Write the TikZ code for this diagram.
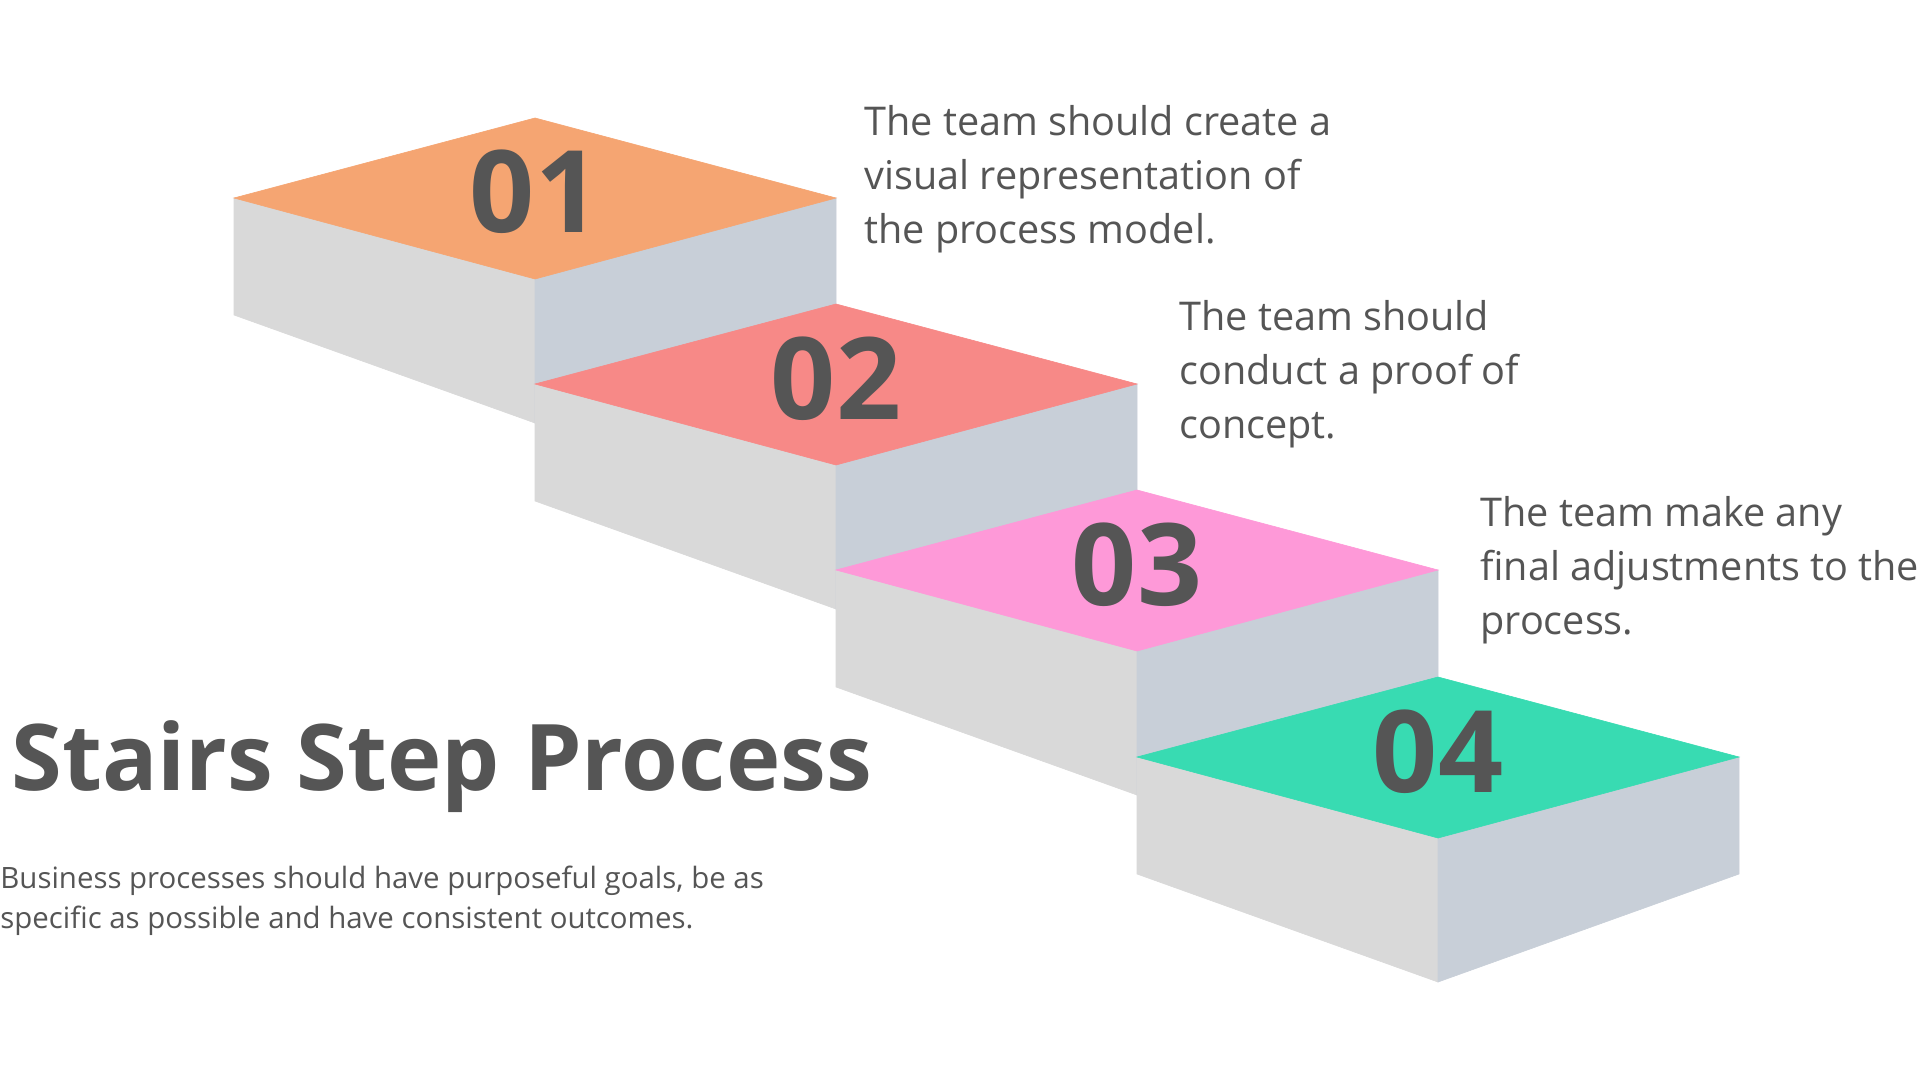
\documentclass[tikz,border=0pt]{standalone}
\usepackage{fontspec}
\setmainfont{Open Sans}
\usepackage{xcolor}
\usepackage{tikz}

\definecolor{ink}{HTML}{555555}
\definecolor{sidegray}{HTML}{D9D9D9}
\definecolor{sideblue}{HTML}{C8CFD8}
\definecolor{stepone}{HTML}{F5A572}
\definecolor{steptwo}{HTML}{F78987}
\definecolor{stepthree}{HTML}{FE99D8}
\definecolor{stepfour}{HTML}{38DBB2}

\begin{document}
\begin{tikzpicture}[
    x=0.5pt, y=-0.5pt,
    leftface/.style={fill=sidegray, draw=sidegray, line width=0.3pt},
    rightface/.style={fill=sideblue, draw=sideblue, line width=0.3pt},
    topface/.style={fill=#1, draw=#1, line width=0.3pt},
    num/.style={font=\fontsize{57}{57}\selectfont\bfseries, text=ink, inner sep=0pt},
    note/.style={font=\fontsize{19.8}{27}\selectfont, text=ink, align=left, anchor=base west, inner sep=0pt},
]
    \fill[white] (0,0) rectangle (1920,1080);
    \useasboundingbox (0,0) rectangle (1920,1080);

    % step 01
    \fill[leftface] (234,198) -- (535,279) -- (535,423) -- (234,315) -- cycle;
    \fill[rightface] (535,279) -- (836,198) -- (836,315) -- (535,423) -- cycle;
    \fill[topface=stepone] (535,118) -- (836,198) -- (535,279) -- (234,198) -- cycle;
    \node[num] (n01) at (535,192) {01};

    % step 02
    \fill[leftface] (535,384) -- (836,465) -- (836,609) -- (535,501) -- cycle;
    \fill[rightface] (836,465) -- (1137,384) -- (1137,501) -- (836,609) -- cycle;
    \fill[topface=steptwo] (836,304) -- (1137,384) -- (836,465) -- (535,384) -- cycle;
    \node[num] (n02) at (836,379) {02};

    % step 03
    \fill[leftface] (836,570) -- (1137,651) -- (1137,795) -- (836,687) -- cycle;
    \fill[rightface] (1137,651) -- (1438,570) -- (1438,687) -- (1137,795) -- cycle;
    \fill[topface=stepthree] (1137,490) -- (1438,570) -- (1137,651) -- (836,570) -- cycle;
    \node[num] (n03) at (1137,565) {03};

    % step 04
    \fill[leftface] (1137,757) -- (1438,838) -- (1438,982) -- (1137,874) -- cycle;
    \fill[rightface] (1438,838) -- (1739,757) -- (1739,874) -- (1438,982) -- cycle;
    \fill[topface=stepfour] (1438,677) -- (1739,757) -- (1438,838) -- (1137,757) -- cycle;
    \node[num] (n04) at (1438,752) {04};

    % texts (anchored on the last line)
    \node[note] (t01) at (864,244) {The team should create a\\visual representation of\\the process model.};
    \node[note] (t02) at (1179,438) {The team should\\conduct a proof of\\concept.};
    \node[note] (t03) at (1480,634) {The team make any\\final adjustments to the\\process.};

    \node[font=\fontsize{46}{50}\selectfont\bfseries, text=ink, anchor=base west, inner sep=0pt] (title) at (11,790) {Stairs Step Process};
    \node[font=\fontsize{14.7}{20}\selectfont, text=ink, align=left, anchor=base west, inner sep=0pt] (subtitle) at (0,928)
        {Business processes should have purposeful goals, be as\\specific as possible and have consistent outcomes.};
\end{tikzpicture}
\end{document}
